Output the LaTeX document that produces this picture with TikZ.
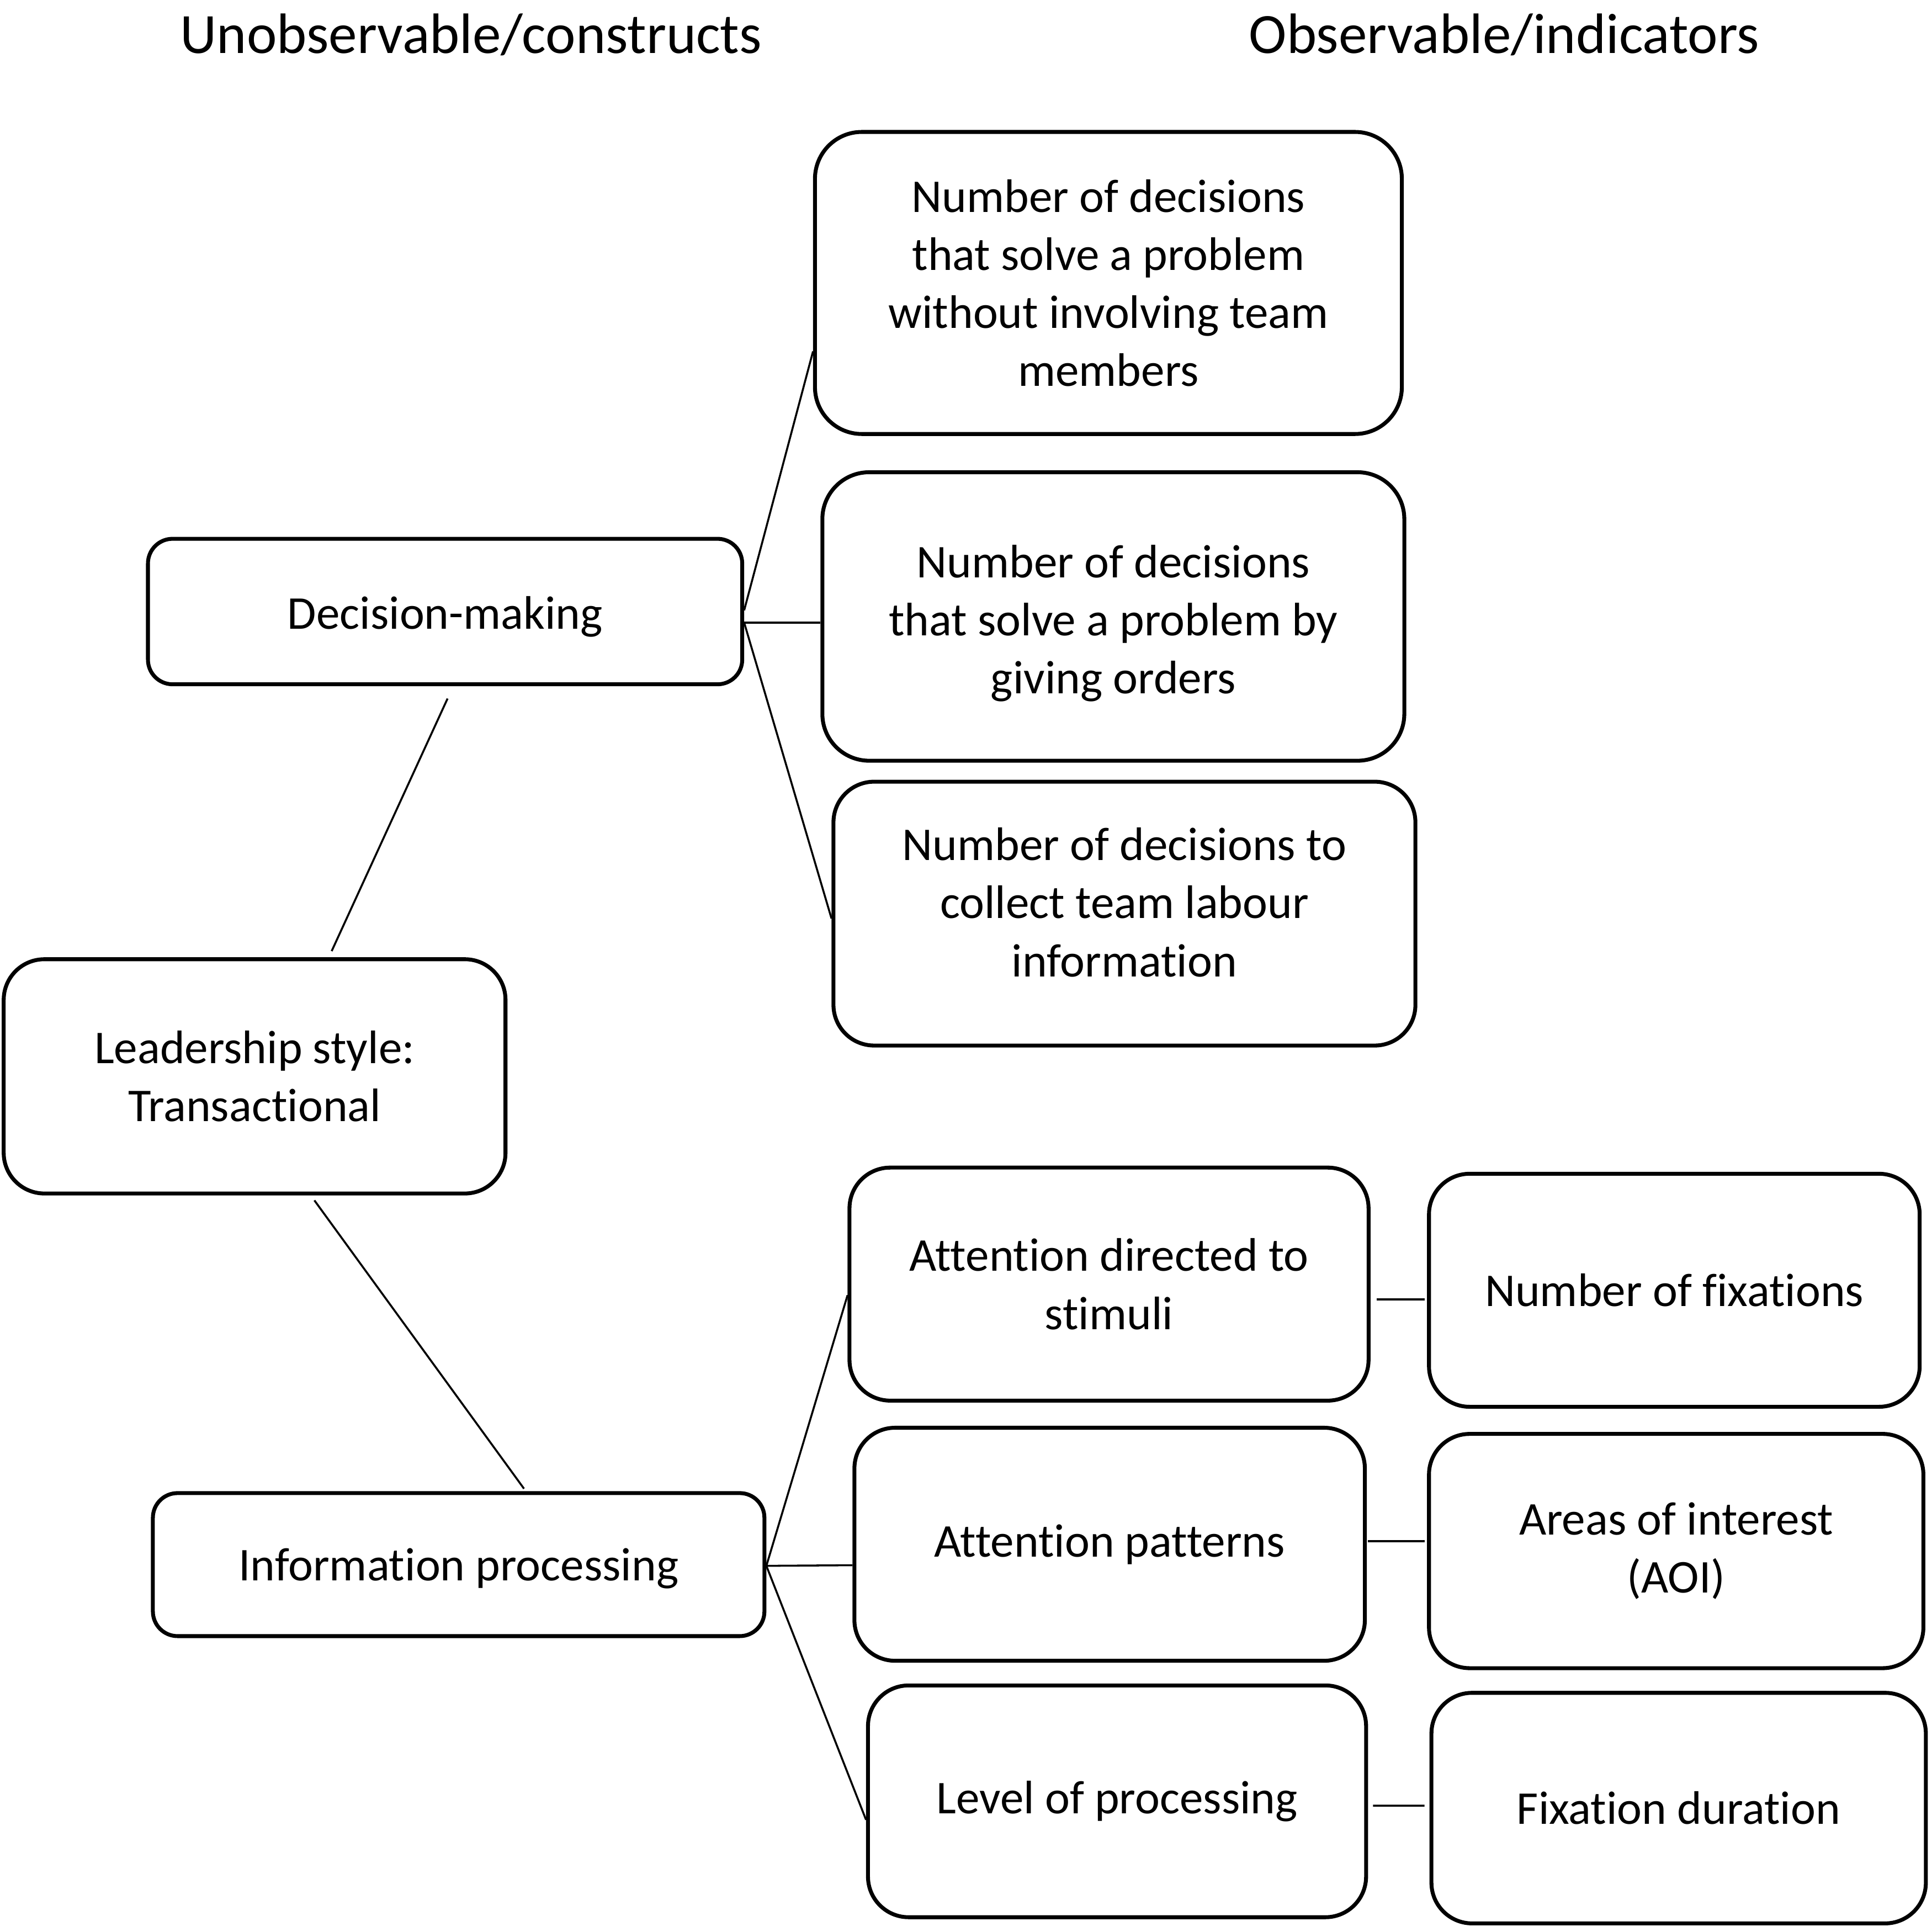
\documentclass[tikz,border=0pt]{standalone}
\usepackage{fontspec}
\setmainfont{Carlito}[Ligatures=NoCommon]
\usetikzlibrary{calc}
\newcommand{\liftbox}[2]{\raisebox{#1}[\height][\depth]{#2}}
\begin{document}
\begin{tikzpicture}[
  box/.style={draw=black, line width=0.9pt, rounded corners=0.33cm, align=center, inner sep=0pt,
    font=\fontsize{10.85pt}{13.4pt}\selectfont},
  smallr/.style={rounded corners=0.2cm},
  link/.style={draw=black, line width=0.45pt},
  hdr/.style={font=\fontsize{13.15pt}{15pt}\selectfont, inner sep=0pt}
]
\useasboundingbox (0,0) rectangle (15.67,-15.67);
% headers
\node[hdr] (H1) at (3.82,-0.28) {Unobservable/constructs};
\node[hdr] (H2) at (12.20,-0.28) {Observable/indicators};
% left column
\node[box, smallr, minimum width=4.82cm, minimum height=1.18cm] (DM) at (3.61,-4.96) {\liftbox{-0.04cm}{Decision-making}};
\node[box, minimum width=4.07cm, minimum height=1.90cm] (LS) at (2.065,-8.73) {Leadership style:\\Transactional};
\node[box, smallr, minimum width=4.96cm, minimum height=1.16cm] (IP) at (3.72,-12.69) {\liftbox{-0.03cm}{Information processing}};
% decision indicators
\node[box, rounded corners=0.38cm, minimum width=4.76cm, minimum height=2.45cm] (B1) at (8.99,-2.295) {Number of decisions\\that solve a problem\\without involving team\\members};
\node[box, rounded corners=0.38cm, minimum width=4.72cm, minimum height=2.34cm] (B2) at (9.03,-5.00) {\liftbox{-0.06cm}{\begin{tabular}{@{}c@{}}Number of decisions\\that solve a problem by\\giving orders\end{tabular}}};
\node[box, minimum width=4.72cm, minimum height=2.14cm] (B3) at (9.12,-7.41) {\liftbox{0.055cm}{\begin{tabular}{@{}c@{}}Number of decisions to\\collect team labour\\information\end{tabular}}};
% information processing
\node[box, minimum width=4.21cm, minimum height=1.89cm] (B7) at (8.995,-10.415) {Attention directed to\\stimuli};
\node[box, minimum width=4.14cm, minimum height=1.89cm] (B8) at (9.00,-12.525) {Attention patterns};
\node[box, minimum width=4.04cm, minimum height=1.88cm] (B9) at (9.06,-14.61) {Level of processing};
\node[box, minimum width=3.98cm, minimum height=1.89cm] (B10) at (13.58,-10.465) {Number of fixations};
\node[box, minimum width=4.01cm, minimum height=1.90cm] (B11) at (13.595,-12.58) {Areas of interest\\(AOI)};
\node[box, minimum width=4.01cm, minimum height=1.87cm] (B12) at (13.615,-14.665) {Fixation duration};
% connectors
\draw[link] ([yshift=0.01cm]DM.east) -- ([yshift=-0.555cm]B1.west);
\draw[link] ([yshift=-0.09cm]DM.east) -- ([yshift=-0.05cm]B2.west);
\draw[link] ([yshift=-0.09cm]DM.east) -- ([yshift=-0.04cm]B3.west);
\draw[link] ([xshift=0.02cm,yshift=-0.1cm]DM.south) -- ([xshift=0.625cm,yshift=0.05cm]LS.north);
\draw[link] ([xshift=0.485cm,yshift=-0.04cm]LS.south) -- ([xshift=0.53cm,yshift=0.02cm]IP.north);
\draw[link] ([yshift=-0.01cm]IP.east) -- ([yshift=-0.09cm]B7.west);
\draw[link] ([yshift=-0.01cm]IP.east) -- ([yshift=-0.17cm]B8.west);
\draw[link] ([yshift=-0.01cm]IP.east) -- ([yshift=-0.15cm]B9.west);
\draw[link] ([xshift=0.05cm,yshift=-0.125cm]B7.east) -- ([xshift=-0.02cm,yshift=-0.075cm]B10.west);
\draw[link] ([xshift=0.01cm,yshift=0.025cm]B8.east) -- ([xshift=-0.02cm,yshift=0.08cm]B11.west);
\draw[link] ([xshift=0.04cm,yshift=-0.035cm]B9.east) -- ([xshift=-0.04cm,yshift=0.02cm]B12.west);
\end{tikzpicture}
\end{document}
